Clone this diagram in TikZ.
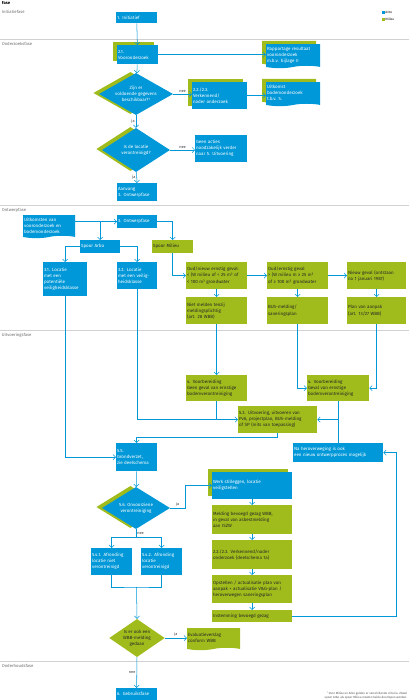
\documentclass[tikz,border=0pt]{standalone}
\usepackage{fontspec}
\setmainfont{Fira Sans}
\usetikzlibrary{shapes.geometric,shapes.symbols,shadows,arrows.meta}
\definecolor{arboblue}{RGB}{0,152,216}
\definecolor{milieugreen}{RGB}{160,188,28}
\definecolor{fasegray}{RGB}{110,110,110}

\begin{document}
\begin{tikzpicture}[x=0.5mm,y=-0.5mm,
    font=\fontsize{6.4}{8.6}\selectfont,
    box/.style 2 args={anchor=north west,minimum width=#1*0.5mm,minimum height=#2*0.5mm,
      text width=#1*0.5mm-2.6pt,inner xsep=1.3pt,inner ysep=0.8pt,align=left},
    arbo/.style={fill=arboblue,text=white},
    milieu/.style={fill=milieugreen,text=black!85},
    groen/.style={drop shadow={shadow xshift=-2mm,shadow yshift=1.6mm,fill=milieugreen,opacity=1}},
    ruitgroen/.style={drop shadow={shadow xshift=-2.8mm,shadow yshift=0.5mm,fill=milieugreen,opacity=1}},
    doc/.style={shape=tape,tape bend top=none,tape bend height=1.2mm},
    keuze/.style 2 args={shape=diamond,minimum width=#1*0.5mm,minimum height=#2*0.5mm,
      inner sep=0pt,align=center,aspect=1.7},
    pijl/.style={draw=arboblue,line width=0.75pt,-{Straight Barb[length=1.3mm,width=2.6mm]}},
    lijn/.style={draw=arboblue,line width=0.75pt},
    faselijn/.style={draw=black!18,line width=0.9pt},
    fase/.style={anchor=north west,inner sep=1pt,text=fasegray,font=\fontsize{6}{7}\selectfont},
    antw/.style={font=\fontsize{5.5}{6}\selectfont,text=black!80,inner sep=1.5pt},
  ]
  \useasboundingbox (0,0) rectangle (409,700);

  \node[fase,text=black,font=\fontsize{6}{7}\selectfont\bfseries] (kop) at (1,1) {Fase};
  \node[fase] (f0) at (1,9) {Initiatiefase};
  \draw[faselijn] (0,39) -- (409,39);
  \node[fase] (f1) at (1,41) {Onderzoeksfase};
  \draw[faselijn] (0,205) -- (409,205);
  \node[fase] (f2) at (1,207) {Ontwerpfase};
  \draw[faselijn] (0,330) -- (409,330);
  \node[fase] (f3) at (1,332) {Uitvoeringsfase};
  \draw[faselijn] (0,661) -- (409,661);
  \node[fase] (f4) at (1,663) {Onderhoudsfase};

  \node[fill=arboblue,minimum size=1.5mm,inner sep=0pt] (legarbo) at (383,12) {};
  \node[anchor=west,inner sep=1pt,font=\fontsize{4.5}{5}\selectfont] at (legarbo.east) {Arbo};
  \node[fill=milieugreen,minimum size=1.5mm,inner sep=0pt] (legmilieu) at (383,19.5) {};
  \node[anchor=west,inner sep=1pt,font=\fontsize{4.5}{5}\selectfont] at (legmilieu.east) {Milieu};

  \node[box={41}{11},arbo] (init) at (116,12) {1. Initiatief};
  \node[box={41}{19},arbo,groen] (voor) at (117,45) {2.1.\\Vooronderzoek};
  \node[box={54}{24},arbo,doc,groen] (rapp) at (266,44) {Rapportage resultaat\\vooronderzoek\\m.b.v. bijlage II};
  \node[keuze={74}{42},fill=arboblue,text=white,ruitgroen] (gegev) at (136,94) {Zijn er\\voldoende gegevens\\beschikbaar?\textsuperscript{1}};
  \node[box={55}{27},arbo,groen] (nader) at (192,82) {2.2./2.3.\\Verkennend/\\nader onderzoek};
  \node[box={54}{24},arbo,doc,groen] (uitk) at (266,82) {Uitkomst\\bodemonderzoek\\t.b.v. 5.};
  \node[keuze={68}{44},fill=arboblue,text=white,ruitgroen] (veront) at (136,150) {Is de locatie\\verontreinigd?};
  \node[box={52}{27},arbo] (geen) at (195,135) {Geen acties\\noodzakelijk verder\\naar 5. Uitvoering};
  \node[box={40}{18},arbo] (aanv) at (117,183) {Aanvang\\3. Ontwerpfase};

  \node[box={52}{23},arbo,doc] (uitkv) at (23,215) {Uitkomsten van\\vooronderzoek en\\bodemonderzoek};
  \node[box={40}{13},arbo] (ontw) at (117,215) {3. Ontwerpfase};
  \node[box={40}{13},arbo] (arbo) at (80,240) {Spoor Arbo};
  \node[box={41}{13},milieu] (milieu) at (152,240) {Spoor Milieu};
  \node[box={44}{34},arbo] (loc1) at (43,262) {3.1. Locatie\\met een\\potentiële\\veiligheidsklasse};
  \node[box={40}{27},arbo] (loc2) at (117,262) {3.2. Locatie\\met een veilig-\\heidsklasse};
  \node[box={61}{27},milieu] (oud) at (186,262) {Oud/nieuw ernstig geval:\\< (W milieu of < 25 m³ of\\< 100 m³ grondwater};
  \node[box={61}{27},milieu] (ernst) at (267,262) {Oud/ernstig geval\\> (W milieu m ≥ 25 m³\\of ≥ 100 m³ grondwater};
  \node[box={59}{27},milieu] (nieuw) at (347,262) {Nieuw geval (ontstaan\\na 1 januari 1987)};
  \node[box={61}{27},milieu] (nietm) at (186,297) {Niet melden tenzij\\meldingsplichtig\\(art. 28 WBB)};
  \node[box={61}{27},milieu] (bus) at (267,297) {BUS-melding/\\saneringsplan};
  \node[box={59}{27},milieu] (pva) at (347,297) {Plan van aanpak\\(art. 13/27 WBB)};

  \node[box={61}{26},milieu] (voorb1) at (186,375) {4. Voorbereiding\\Geen geval van ernstige\\bodemverontreiniging};
  \node[box={62}{26},milieu] (voorb2) at (307,375) {4. Voorbereiding\\Geval van ernstige\\bodemverontreiniging};
  \node[box={79}{27},milieu] (uitv) at (238,406) {5.3. Uitvoering, uitvoeren van\\PvA, projectplan, BUS-melding\\of SP (mits van toepassing)};
  \node[box={41}{28},arbo] (grond) at (116,443) {5.5.\\Grondverzet,\\zie deelschema};
  \node[box={90}{19},arbo] (herov) at (293,443) {Na heroverweging is ook\\een nieuw ontwerpproces mogelijk};
  \node[keuze={68}{42},fill=arboblue,text=white,ruitgroen] (onvz) at (136,508) {5.6. Onvoorziene\\verontreiniging};
  \node[box={80}{27},arbo,groen] (werk) at (212,472) {Werk stilleggen, locatie\\veiligstellen};
  \node[box={80}{29},milieu] (meld) at (212,505) {Melding bevoegd gezag WBB,\\in geval van asbestmelding\\aan ISZW};
  \node[box={80}{29},milieu] (verk) at (212,540) {2.2./2.3. Verkennend/nader\\onderzoek (deelschema 1a)};
  \node[box={80}{28},milieu] (opst) at (212,575) {Opstellen / actualisatie plan van\\aanpak + actualisatie V\&G-plan /\\heroverwegen saneringsplan};
  \node[box={80}{12},milieu] (inst) at (212,610) {Instemming bevoegd gezag};
  \node[box={41}{27},arbo] (afr1) at (91,548) {5.4.1. Afronding\\locatie niet\\verontreinigd};
  \node[box={41}{27},arbo] (afr2) at (141,548) {5.4.2. Afronding\\locatie\\verontreinigd};
  \node[keuze={54}{38},fill=milieugreen,text=black!85] (wbb) at (137,638) {Is er ook een\\WBB-melding\\gedaan};
  \node[box={53}{22},milieu,doc] (eval) at (187,628) {Evaluatieverslag\\conform WBB};
  \node[box={41}{12},arbo] (gebr) at (116,688) {6. Gebruiksfase};

  \node[anchor=south east,align=right,inner sep=1pt,text=black!70,font=\fontsize{4.2}{5.2}\selectfont] (noot) at (408,700)
    {\textsuperscript{1} Voor Milieu en Arbo gelden er verschillende criteria. Zowel\\spoor Arbo als spoor Milieu moeten beide doorlopen worden.};

  \draw[pijl] (init) -- (voor);
  \draw[pijl] (voor.east) -- (voor.east -| rapp.west);
  \draw[pijl] (voor) -- (gegev);
  \draw[pijl] (gegev.east) -- node[above,antw]{nee} (gegev.east -| nader.west);
  \draw[pijl] (nader.east) -- (nader.east -| uitk.west);
  \draw[pijl] (gegev) -- node[left,antw]{ja} (veront);
  \draw[pijl] (veront.east) -- node[above,antw]{nee} (veront.east -| geen.west);
  \draw[pijl] (veront) -- node[left,antw]{ja} (aanv);

  \draw[pijl] (uitkv.east |- ontw.west) -- (ontw.west);
  \draw[pijl] (ontw.west) -| (arbo.north);
  \draw[pijl] (ontw.east) -| (milieu.north);
  \draw[pijl] (arbo.west) -| (loc1.north);
  \draw[pijl] (arbo.east) -| (loc2.north);
  \draw[pijl] (milieu.south) |- (oud.west);
  \draw[pijl] (oud.east) -- (oud.east -| ernst.west);
  \draw[pijl] (ernst.east) -- (ernst.east -| nieuw.west);
  \draw[pijl] (oud) -- (nietm);
  \draw[pijl] (ernst) -- (bus);
  \draw[pijl] (nieuw) -- (pva);
  \draw[pijl] (nietm) -- (voorb1);
  \draw[pijl] (bus.south) |- (voorb2.west);
  \draw[pijl] (pva.south) |- (voorb2.east);

  \draw[pijl] (loc1.south) |- (grond.west);
  \draw[pijl] (loc2.south) |- (uitv.west);
  \draw[lijn] (voorb1.south) -- (voorb1.south |- uitv.west);
  \draw[lijn] (voorb2) -- (herov);
  \coordinate (split) at (voorb2.south |- uitv.east);
  \draw[pijl] (split) -- (uitv.east);
  \draw[pijl] (uitv.south) -- ++(0,4) -| (grond.north);
  \draw[pijl] (grond) -- (onvz);

  \draw[pijl] (onvz.east) -- node[above,antw]{ja} ++(15,0) |- (werk.west);
  \draw[pijl] (werk) -- (meld);
  \draw[pijl] (meld) -- (verk);
  \draw[pijl] (verk) -- (opst);
  \draw[pijl] (opst) -- (inst);
  \draw[pijl] (inst.east) -- ++(104,0) |- (herov.east);

  \draw[lijn] (onvz.south) -- node[right,antw]{nee} ++(0,8) coordinate (tak);
  \draw[pijl] (tak) -| (afr1.north);
  \draw[pijl] (tak) -| (afr2.north);
  \coordinate (samen) at (136.5,587);
  \draw[lijn] (afr1.south) |- (samen) -| (afr2.south);
  \draw[pijl] (samen) -- (wbb.north);
  \draw[pijl] (wbb.east) -- node[above,antw]{ja} (wbb.east -| eval.west);
  \draw[pijl] (wbb) -- node[left,antw]{nee} (gebr);
\end{tikzpicture}
\end{document}
